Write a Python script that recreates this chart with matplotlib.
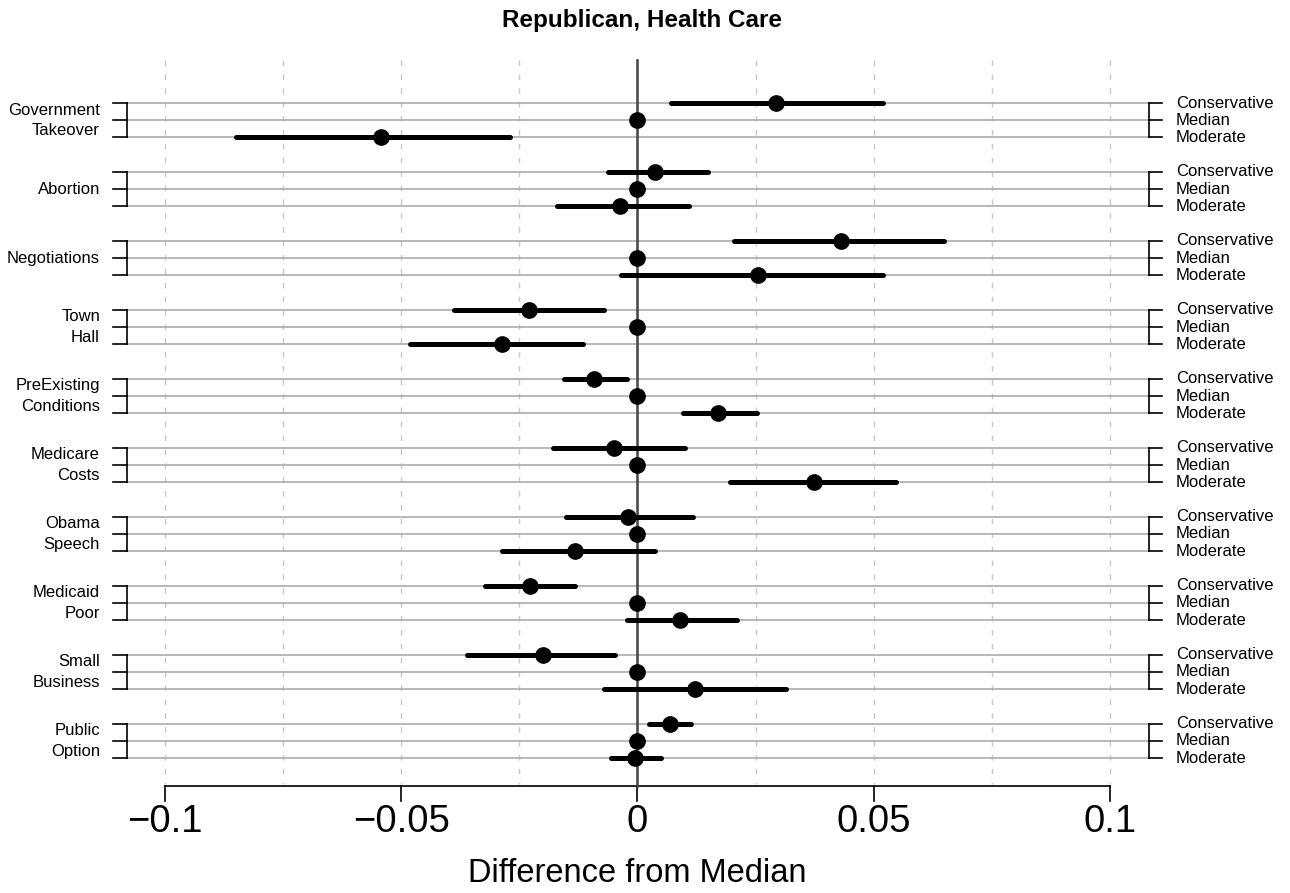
import matplotlib
matplotlib.use("Agg")
import matplotlib.pyplot as plt

plt.rcParams['font.family'] = ['Liberation Sans', 'DejaVu Sans']

topics = ["Government\nTakeover", "Abortion", "Negotiations", "Town\nHall",
          "PreExisting\nConditions", "Medicare\nCosts", "Obama\nSpeech",
          "Medicaid\nPoor", "Small\nBusiness", "Public\nOption"]
row_labels = ["Conservative", "Median", "Moderate"]

cons_est = [0.0294, 0.0037, 0.0430, -0.0229, -0.0093, -0.0049, -0.0021, -0.0227, -0.0201, 0.0069]
cons_lo = [0.0070, -0.0063, 0.0204, -0.0388, -0.0155, -0.0179, -0.0152, -0.0323, -0.0360, 0.0024]
cons_hi = [0.0519, 0.0150, 0.0649, -0.0070, -0.0023, 0.0100, 0.0118, -0.0133, -0.0047, 0.0114]
median_est = [0.0] * 10
mod_est = [-0.0542, -0.0036, 0.0255, -0.0286, 0.0171, 0.0373, -0.0132, 0.0090, 0.0121, -0.0006]
mod_lo = [-0.0849, -0.0171, -0.0035, -0.0481, 0.0096, 0.0196, -0.0287, -0.0023, -0.0071, -0.0057]
mod_hi = [-0.0270, 0.0109, 0.0520, -0.0115, 0.0253, 0.0548, 0.0036, 0.0211, 0.0315, 0.0050]

xticks = [-0.1, -0.05, 0, 0.05, 0.1]
xtick_labels = ["\u22120.1", "\u22120.05", "0", "0.05", "0.1"]
grid_x = [-0.1, -0.075, -0.05, -0.025, 0.025, 0.05, 0.075, 0.1]

W, H = 1290, 893
fig = plt.figure(figsize=(W / 100, H / 100), dpi=100)
ax = fig.add_axes([0, 0, 1, 1])
ax.axis('off')

# pixel layout helpers
PX_PER_UNIT = 4725.0
X0 = 637.5
ROW_PX = 17.24
TOP_PX = 103.0

def px2x(px):
    return (px - X0) / PX_PER_UNIT

def py2y(py):
    return (py - TOP_PX) / ROW_PX

ax.set_xlim(px2x(0), px2x(W))
ax.set_ylim(py2y(H), py2y(0))

# dashed grid
for gx in grid_x:
    ax.plot([gx, gx], [py2y(60), py2y(784)], color='#c8c8c8', lw=1.0,
            dashes=(4, 6), zorder=1)

n = len(topics)
for g in range(n):
    ys = [g * 4 + r for r in range(3)]
    # gray row lines
    for y in ys:
        ax.plot([px2x(127), px2x(1149)], [y, y], color='#ababab', lw=1.2, zorder=2)
    # left bracket
    ax.plot([px2x(127), px2x(127)], [ys[0], ys[2]], color='black', lw=1.2, zorder=3)
    for y in ys:
        ax.plot([px2x(113), px2x(127)], [y, y], color='black', lw=1.2, zorder=3)
    # right bracket
    ax.plot([px2x(1149), px2x(1149)], [ys[0], ys[2]], color='black', lw=1.2, zorder=3)
    for y in ys:
        ax.plot([px2x(1149), px2x(1162)], [y, y], color='black', lw=1.2, zorder=3)
    # labels
    ax.text(px2x(100), ys[1], topics[g], ha='right', va='center', fontsize=12,
            linespacing=1.45)
    for y, lab in zip(ys, row_labels):
        ax.text(px2x(1176), y, lab, ha='left', va='center', fontsize=12)

# zero line
ax.plot([0, 0], [py2y(60), py2y(786)], color='#444444', lw=1.8, zorder=4)

# estimates
for g in range(n):
    yc, ym, yd = g * 4, g * 4 + 1, g * 4 + 2
    ax.plot([cons_lo[g], cons_hi[g]], [yc, yc], color='black', lw=3.6,
            solid_capstyle='round', zorder=5)
    ax.plot([mod_lo[g], mod_hi[g]], [yd, yd], color='black', lw=3.6,
            solid_capstyle='round', zorder=5)
    ax.plot([cons_est[g], median_est[g], mod_est[g]], [yc, ym, yd], 'o',
            color='black', ms=11, ls='none', zorder=6)

# x axis
y_axis = py2y(786)
ax.plot([-0.1, 0.1], [y_axis, y_axis], color='black', lw=1.2, zorder=3)
for t, lab in zip(xticks, xtick_labels):
    ax.plot([t, t], [y_axis, py2y(801)], color='black', lw=1.2)
    ax.text(t, py2y(822), lab, ha='center', va='center', fontsize=27.5)

ax.text(0, py2y(874), "Difference from Median", ha='center', va='center', fontsize=23.5)
ax.text(px2x(642), py2y(20), "Republican, Health Care", ha='center', va='center',
        fontsize=17.5, fontweight='bold')

fig.savefig("out.png", dpi=100)
